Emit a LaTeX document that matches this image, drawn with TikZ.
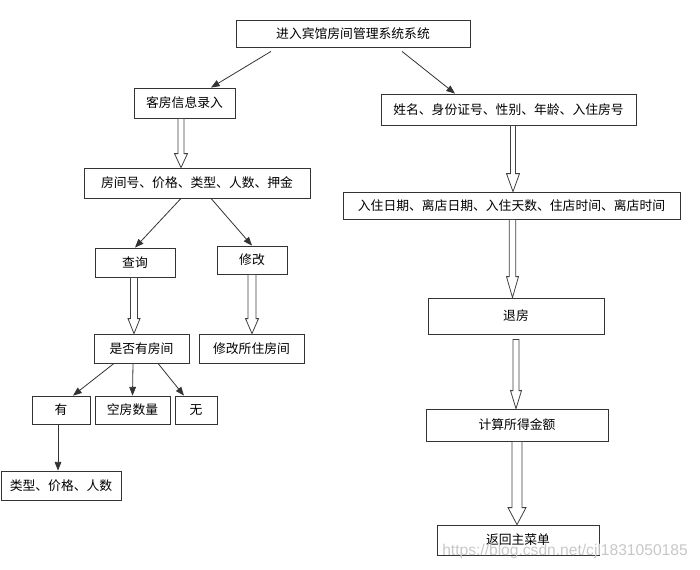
\documentclass[tikz,border=0pt]{standalone}
\usepackage{fontspec}
\setmainfont{Noto Sans CJK SC}
\newfontfamily\markfont{Liberation Sans}
\usetikzlibrary{arrows.meta,calc}
\tikzset{
  box/.style={draw=black!80, line width=0.6pt, minimum height=#1*0.75pt, inner sep=0pt, font=\fontsize{9.6}{11}\selectfont},
  box/.default=29,
  w/.style={minimum width=#1*0.75pt},
  arr/.style={draw=black!80, line width=0.6pt, -{Triangle[length=6.5pt,width=5pt]}},
  hollow/.style={draw=black!75, line width=0.6pt, fill=white, line join=miter}
}
% hollow arrow: [gap]{from}{to}{x}{shaft half}{head half}{head length}
\newcommand{\hollowarrow}[7][0]{%
  \coordinate (ha) at (#4,0);
  \coordinate (hs) at (ha |- #2.south);
  \coordinate (ht) at (ha |- #3.north);
  \draw[hollow] ($(hs)+(-#5,#1)$) -- ($(ht)+(-#5,-#7)$) -- ($(ht)+(-#6,-#7)$) -- (ht)
    -- ($(ht)+(#6,-#7)$) -- ($(ht)+(#5,-#7)$) -- ($(hs)+(#5,#1)$) -- cycle;}
\begin{document}
\begin{tikzpicture}[x=0.75pt, y=-0.75pt]
    \useasboundingbox (0,0) rectangle (700,569);
    % top
    \node[box=27, w=234] (sys) at (353,33.5) {进入宾馆房间管理系统系统};
    % left branch
    \node[box=30, w=101] (kefang) at (184.5,103) {客房信息录入};
    \node[box=30, w=226] (fangjian) at (197,183) {房间号、价格、类型、人数、押金};
    \node[box, w=80] (chaxun) at (135,262.5) {查询};
    \node[box=28, w=70] (xiugai) at (252,260) {修改};
    \node[box, w=95] (shifou) at (141.5,348.5) {是否有房间};
    \node[box, w=105] (xgfj) at (251.5,348.5) {修改所住房间};
    \node[box=28, w=58] (you) at (61,410) {有};
    \node[box=28, w=75] (kongfang) at (132.5,410) {空房数量};
    \node[box=28, w=42] (wu) at (196,410) {无};
    \node[box, w=120] (leixing) at (61,485.5) {类型、价格、人数};
    % right branch
    \node[box=31, w=255] (xingming) at (508.5,109.5) {姓名、身份证号、性别、年龄、入住房号};
    \node[box=27, w=337] (riqi) at (511.5,205.5) {入住日期、离店日期、入住天数、住店时间、离店时间};
    \node[box=36, w=176] (tuifang) at (516,316) {退房};
    \node[box=32, w=182] (jisuan) at (517,425) {计算所得金额};
    \node[box=30, w=162] (fanhui) at (518,540) {返回主菜单};
    \node[text=black!22, font=\markfont\fontsize{11.7}{13}\selectfont, inner sep=0pt] (mark) at (565,551) {https://blog.csdn.net/cjl1831050185};
    % arrows
    \draw[arr] ($(sys.south)+(-82,4)$) -- ($(kefang.north)+(26.5,0)$);
    \draw[arr] ($(sys.south)+(49,4)$) -- ($(xingming.north)+(-53.5,0)$);
    \draw[arr] ($(fangjian.south)+(-16,0)$) -- (chaxun.north);
    \draw[arr] ($(fangjian.south)+(14,0)$) -- (xiugai.north);
    \draw[arr] ($(shifou.south)+(-27.5,0)$) -- ($(you.north)+(12,0)$);
    \draw[arr] ($(shifou.south)+(-8.5,0)$) -- (kongfang.north);
    \draw[arr] ($(shifou.south)+(16.5,0)$) -- ($(wu.north)+(-12,0)$);
    \draw[arr] ($(you.south)+(-3,0)$) -- ($(leixing.north)+(-3,0)$);
    \hollowarrow{kefang}{fangjian}{181}{3}{6.5}{14}
    \hollowarrow{chaxun}{shifou}{134}{3.5}{6}{15}
    \hollowarrow{xiugai}{xgfj}{252}{4}{6.5}{15}
    \hollowarrow{xingming}{riqi}{513}{2.5}{6.5}{18}
    \hollowarrow{riqi}{tuifang}{512.5}{3.3}{6}{21}
    \hollowarrow[5]{tuifang}{jisuan}{516}{3}{5.5}{18}
    \hollowarrow{jisuan}{fanhui}{517}{5}{9}{17}
\end{tikzpicture}
\end{document}
